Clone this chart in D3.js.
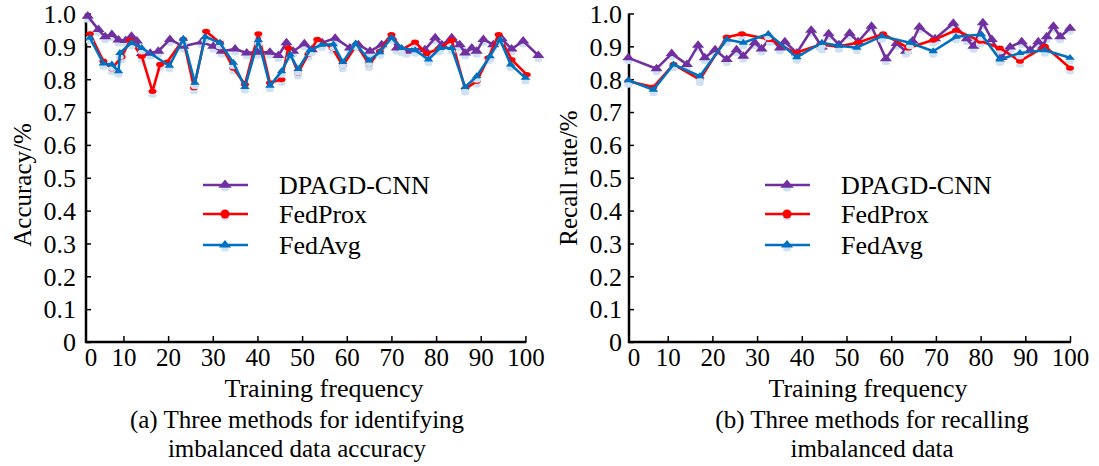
<!DOCTYPE html>
<html>
<head>
<meta charset="utf-8">
<script src="https://cdn.jsdelivr.net/npm/d3@7"></script>
<style>
  body { margin: 0; background: #fff; }
  svg text { font-family: "Liberation Serif", "Times New Roman", serif; fill: #000; }
</style>
</head>
<body>
<svg id="chart" width="1099" height="466"></svg>
<script>
// ---- data (training frequency, value) ----
var yTickValues = [0, 0.1, 0.2, 0.3, 0.4, 0.5, 0.6, 0.7, 0.8, 0.9, 1.0];
var xTickValues = [10, 20, 30, 40, 50, 60, 70, 80, 90, 100];
var seriesNames = ['DPAGD-CNN', 'FedProx', 'FedAvg'];

var accDPAGD = [[2,0.992],[4.4,0.951],[5.9,0.929],[7.4,0.936],[8.9,0.919],[10.5,0.918],[11.8,0.931],[13,0.916],[14.1,0.878],[16,0.879],[17.8,0.885],[20.4,0.921],[23.4,0.900],[27.5,0.913],[30.1,0.900],[32,0.885],[35,0.892],[37.6,0.880],[40,0.882],[42.8,0.882],[44.7,0.872],[46.5,0.911],[48,0.885],[50.5,0.908],[52.2,0.890],[54.5,0.911],[57.4,0.925],[60.7,0.895],[62.6,0.905],[65.2,0.885],[67.8,0.905],[70,0.928],[71.2,0.895],[73.4,0.885],[75.3,0.895],[77.5,0.890],[79.8,0.926],[81.3,0.905],[83.5,0.926],[85.3,0.905],[86.5,0.880],[88,0.895],[89.1,0.885],[90.6,0.921],[92.8,0.905],[94.7,0.923],[96.9,0.892],[99.5,0.916],[102.9,0.872]];
var accFedProx = [[2.5,0.938],[5.5,0.855],[7.4,0.832],[9.6,0.868],[11.5,0.919],[14.1,0.870],[16.5,0.763],[18.2,0.845],[19.8,0.852],[23.4,0.921],[25.8,0.774],[28.5,0.946],[31.6,0.911],[34.6,0.834],[37.2,0.784],[40.2,0.938],[42.8,0.789],[45.4,0.799],[46.9,0.895],[49.1,0.819],[51.4,0.876],[53.4,0.921],[56.8,0.895],[59.1,0.841],[62.2,0.905],[65,0.845],[67.4,0.885],[70,0.936],[72.3,0.890],[75.3,0.913],[77.9,0.878],[80.5,0.892],[83.5,0.919],[86.5,0.770],[89.1,0.794],[91.7,0.865],[94,0.936],[96.9,0.860],[100.3,0.814]];
var accFedAvg = [[2.5,0.926],[5.5,0.848],[7.4,0.845],[8.9,0.824],[9.2,0.880],[11.8,0.911],[14.1,0.895],[20.3,0.841],[23.4,0.923],[26,0.789],[28.3,0.929],[31.6,0.911],[34.6,0.850],[37.2,0.776],[40.2,0.919],[42.8,0.780],[45.4,0.824],[47.3,0.875],[49.1,0.831],[51.8,0.889],[54.4,0.905],[57,0.906],[59.1,0.852],[62,0.909],[65,0.857],[67.4,0.882],[70,0.926],[72.3,0.895],[75.3,0.888],[78.3,0.860],[80.9,0.895],[83.5,0.895],[86.5,0.776],[89.1,0.809],[92.1,0.870],[94.3,0.921],[96.7,0.845],[100,0.804]];

var recDPAGD = [[1.2,0.865],[7.5,0.832],[10.9,0.878],[14.3,0.845],[16.8,0.903],[18.3,0.865],[20.6,0.890],[23.2,0.860],[25.4,0.890],[26.9,0.870],[29.5,0.911],[31,0.892],[32.9,0.926],[35.1,0.895],[36.2,0.914],[38.9,0.880],[42.1,0.949],[44.5,0.898],[46,0.938],[48.3,0.905],[50.7,0.940],[52.6,0.914],[55.6,0.961],[58.8,0.862],[61.2,0.909],[63.3,0.885],[64.8,0.916],[66.3,0.959],[69.8,0.923],[73.9,0.970],[76.9,0.923],[78.4,0.900],[80.5,0.972],[82.5,0.921],[84.7,0.866],[86.6,0.898],[89.2,0.914],[91.1,0.888],[92.9,0.914],[94,0.900],[94.8,0.929],[96.3,0.961],[97.8,0.929],[100,0.955]];
var recFedProx = [[1.2,0.794],[6.8,0.776],[11.3,0.845],[17.2,0.799],[23.2,0.928],[26.6,0.938],[32.9,0.921],[38.5,0.880],[44.1,0.905],[48.3,0.900],[52.5,0.911],[58.2,0.938],[63.8,0.895],[69.4,0.919],[74.5,0.949],[79.9,0.916],[84.3,0.895],[88.8,0.855],[94.4,0.900],[100,0.834]];
var recFedAvg = [[1.2,0.797],[6.8,0.768],[11.3,0.845],[17.2,0.809],[23.2,0.921],[26.9,0.911],[32.5,0.938],[38.9,0.867],[44.5,0.911],[48.3,0.902],[52.3,0.896],[57.9,0.931],[64.2,0.911],[69.4,0.885],[74.5,0.929],[80.2,0.936],[84.3,0.860],[88.8,0.880],[94.4,0.888],[100,0.865]];

var colors = { 'DPAGD-CNN': '#7030A0', 'FedProx': '#FF0000', 'FedAvg': '#0070C0' };
var shadowColor = '#cfe2f3';
var serif = '"Liberation Serif", "Times New Roman", serif';

var svg = d3.select('#chart');

var tri = d3.symbol().type(d3.symbolTriangle);

function drawMarker(g, name, px, py, big) {
    var c = colors[name];
    if (name === 'FedProx') {
        g.append('ellipse').attr('cx', px).attr('cy', py)
            .attr('rx', big ? 4.5 : 4).attr('ry', big ? 4.5 : 2.6).attr('fill', c);
    } else {
        var size = name === 'DPAGD-CNN' ? (big ? 55 : 45) : (big ? 45 : 28);
        g.append('path').attr('d', tri.size(size)())
            .attr('transform', 'translate(' + px + ',' + py + ') scale(1.2,0.85)')
            .attr('fill', c);
    }
}

function drawPanel(opt) {
    var x = d3.scaleLinear().domain([0, 100]).range([opt.x0, opt.x100]);
    var y = d3.scaleLinear().domain([0, 1]).range([342, 13.5]);
    var g = svg.append('g');

    // y axis, ticks pointing inward
    var yAxis = d3.axisLeft(y).tickValues(yTickValues)
        .tickSize(-5).tickPadding(opt.yPad)
        .tickFormat(function (d) { return d === 0 ? '0' : d3.format('.1f')(d); });
    var gy = g.append('g').attr('transform', 'translate(' + opt.axisX + ',0)').call(yAxis)
        .attr('font-family', null).attr('font-size', null);
    gy.select('.domain').remove();
    gy.selectAll('line').attr('stroke', '#000').attr('stroke-width', 1.5);
    gy.selectAll('text').style('font-family', serif).style('font-size', '26px').attr('dy', '0.34em');

    // x axis
    var xAxis = d3.axisBottom(x).tickValues(xTickValues).tickSize(-6).tickPadding(6);
    var gx = g.append('g').attr('transform', 'translate(0,342)').call(xAxis)
        .attr('font-family', null).attr('font-size', null);
    gx.select('.domain').remove();
    gx.selectAll('line').attr('stroke', '#000').attr('stroke-width', 1.5);
    gx.selectAll('text').style('font-family', serif).style('font-size', '25px').attr('dy', '0.71em');
    gx.append('text').attr('x', opt.axisX + 5).attr('y', 6).attr('dy', '0.71em')
        .attr('text-anchor', 'middle').style('font-family', serif).style('font-size', '25px').text('0');

    g.append('line').attr('x1', opt.axisX).attr('x2', opt.axisX)
        .attr('y1', y(1)).attr('y2', 343).attr('stroke', '#000').attr('stroke-width', 2.5);
    g.append('line').attr('x1', opt.axisX - 1).attr('x2', x(100) + 1)
        .attr('y1', 342).attr('y2', 342).attr('stroke', '#000').attr('stroke-width', 2.5);

    // series
    var line = d3.line().x(function (d) { return x(d[0]); }).y(function (d) { return y(d[1]); });
    opt.series.forEach(function (s, i) {
        var name = seriesNames[i];
        var sg = g.append('g');
        // soft shadow under markers
        sg.selectAll('ellipse.sh').data(s).enter().append('ellipse')
            .attr('class', 'sh')
            .attr('cx', function (d) { return x(d[0]); })
            .attr('cy', function (d) { return y(d[1]) + 4; })
            .attr('rx', 4).attr('ry', 2.5).attr('fill', shadowColor);
        sg.append('path').datum(s).attr('d', line)
            .attr('fill', 'none').attr('stroke', colors[name]).attr('stroke-width', 2.6)
            .attr('stroke-linejoin', 'round');
        s.forEach(function (d) { drawMarker(sg, name, x(d[0]), y(d[1]), false); });
    });

    // legend
    var lg = g.append('g');
    seriesNames.forEach(function (name, i) {
        var ly = opt.legendY[i];
        lg.append('line').attr('x1', opt.legendX).attr('x2', opt.legendX + 45)
            .attr('y1', ly).attr('y2', ly).attr('stroke', colors[name]).attr('stroke-width', 2.6);
        lg.append('ellipse').attr('cx', opt.legendX + 22).attr('cy', ly + 4)
            .attr('rx', 4).attr('ry', 2.5).attr('fill', shadowColor);
        drawMarker(lg, name, opt.legendX + 22, ly, true);
        lg.append('text').attr('x', opt.legendX + 76).attr('y', ly).attr('dy', '0.35em')
            .style('font-family', serif).style('font-size', '26px').text(name);
    });

    // titles
    g.append('text')
        .attr('transform', 'translate(' + opt.yTitleX + ',' + opt.yTitleY + ') rotate(-90)')
        .attr('text-anchor', 'middle').attr('dy', '0.35em')
        .style('font-family', serif).style('font-size', '25px').text(opt.yTitle);
    g.append('text').attr('x', opt.xTitleX).attr('y', 397)
        .attr('text-anchor', 'middle').style('font-family', serif).style('font-size', '26px')
        .text('Training frequency');
    opt.caption.forEach(function (t, i) {
        g.append('text').attr('x', opt.captionX).attr('y', 428 + i * 29)
            .attr('text-anchor', 'middle').style('font-family', serif).style('font-size', '25px').text(t);
    });
}

drawPanel({
    x0: 78.8, x100: 525.4, axisX: 86, yPad: 10,
    series: [accDPAGD, accFedProx, accFedAvg],
    legendX: 203, legendY: [185, 214, 245],
    yTitle: 'Accuracy/%', yTitleX: 22, yTitleY: 185,
    xTitleX: 324, captionX: 297,
    caption: ['(a) Three methods for identifying', 'imbalanced data accuracy']
});

drawPanel({
    x0: 623, x100: 1070, axisX: 629, yPad: 7,
    series: [recDPAGD, recFedProx, recFedAvg],
    legendX: 765, legendY: [185, 214, 245],
    yTitle: 'Recall rate/%', yTitleX: 568, yTitleY: 178,
    xTitleX: 868, captionX: 872,
    caption: ['(b) Three methods for recalling', 'imbalanced data']
});
</script>
</body>
</html>
